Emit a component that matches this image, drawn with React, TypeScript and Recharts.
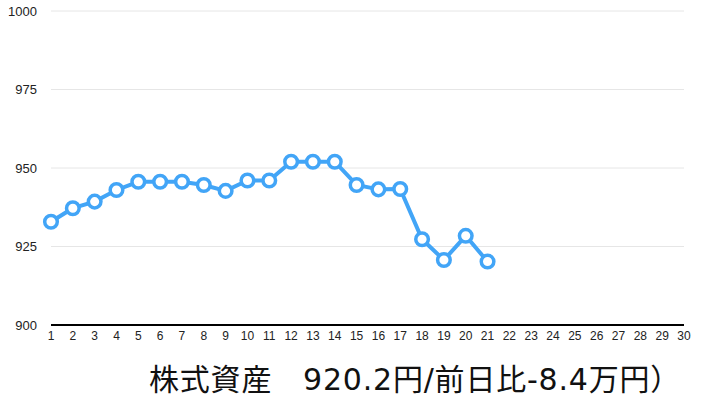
import React from 'react';
import { LineChart, Line, XAxis, YAxis, CartesianGrid } from 'recharts';

const days = [1, 2, 3, 4, 5, 6, 7, 8, 9, 10, 11, 12, 13, 14, 15, 16, 17, 18, 19, 20, 21, 22, 23, 24, 25, 26, 27, 28, 29, 30];
const assets = [932.9, 937.2, 939.3, 943.0, 945.6, 945.6, 945.6, 944.6, 942.7, 946.0, 946.0, 952.0, 952.0, 952.0, 944.6, 943.2, 943.3, 927.3, 920.7, 928.4, 920.2];
const yTicks = [900, 925, 950, 975, 1000];
const title = '株式資産　920.2円/前日比-8.4万円）';

const data = days.map((d, i) => ({ day: d, value: i < assets.length ? assets[i] : null }));

const BLUE = '#42a5f7';

export default function App() {
  return (
    <div style={{ position: 'absolute', left: 0, top: 0, width: 704, height: 407, background: '#fff' }}>
      <LineChart width={704} height={407} data={data} margin={{ top: 11, right: 20, bottom: 52, left: 0 }}>
        <CartesianGrid vertical={false} stroke="#e6e6e6" strokeWidth={1} />
        <XAxis
          dataKey="day"
          height={30}
          axisLine={{ stroke: '#000', strokeWidth: 2 }}
          tickLine={false}
          tickSize={0}
          tickMargin={6}
          interval={0}
          tick={{ fill: '#222', fontSize: 12, fontFamily: 'Liberation Sans, Arial, sans-serif' }}
        />
        <YAxis
          width={51}
          domain={[900, 1000]}
          ticks={yTicks}
          axisLine={false}
          tickLine={false}
          tickSize={0}
          tickMargin={14}
          tick={{ fill: '#222', fontSize: 13, fontFamily: 'Liberation Sans, Arial, sans-serif' }}
        />
        <Line
          type="linear"
          dataKey="value"
          stroke={BLUE}
          strokeWidth={4}
          dot={{ r: 6.3, stroke: BLUE, strokeWidth: 3.5, fill: '#fff' }}
          isAnimationActive={false}
        />
      </LineChart>
      <div
        style={{
          position: 'absolute',
          left: 149,
          top: 360,
          fontSize: 30,
          letterSpacing: 0.8,
          fontFamily: '"DejaVu Sans", "Noto Sans CJK JP", sans-serif',
          color: '#111',
          whiteSpace: 'pre',
          lineHeight: '40px',
        }}
      >
        {title}
      </div>
    </div>
  );
}
